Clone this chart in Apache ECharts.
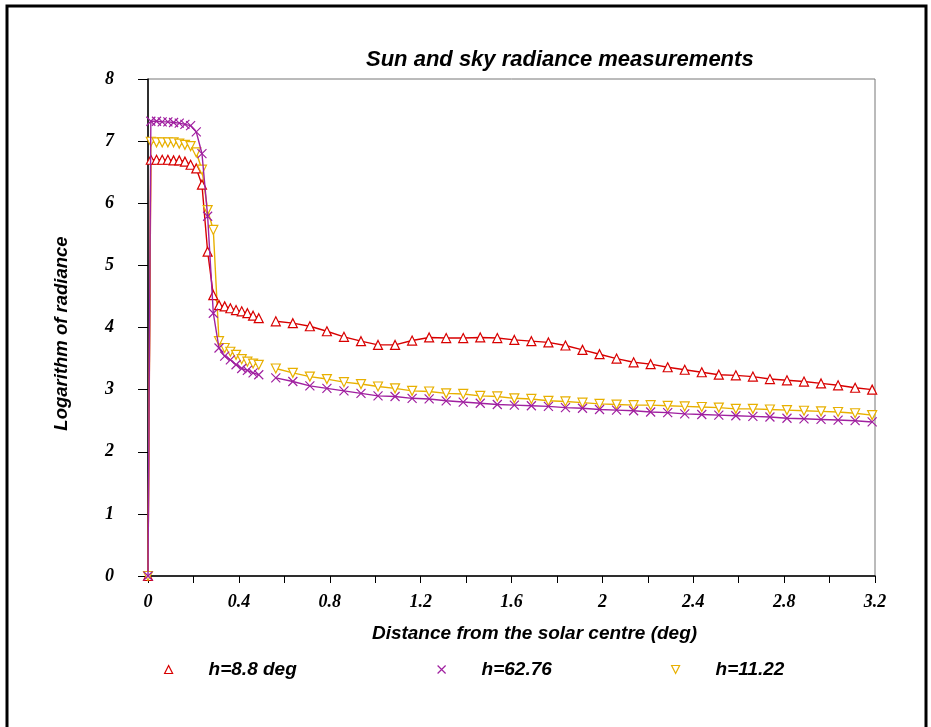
<!DOCTYPE html>
<html>
<head>
<meta charset="utf-8">
<script src="https://cdn.jsdelivr.net/npm/echarts@6/dist/echarts.min.js"></script>
<style>
html,body{margin:0;padding:0;background:#fff;}
#chart{width:931px;height:727px;}
</style>
</head>
<body>
<div id="chart"></div>
<script>
// Distances (deg) of the measurement points
var distZero = [0];
var distNear = [0.0125, 0.0375, 0.0625, 0.0875, 0.1125, 0.1375, 0.1625, 0.1875, 0.2125, 0.2375,
                0.2625, 0.2875, 0.3125, 0.3375, 0.3625, 0.3875, 0.4125, 0.4375, 0.4625, 0.4875];
var distFar = [0.5625, 0.6375, 0.7125, 0.7875, 0.8625, 0.9375, 1.0125, 1.0875, 1.1625, 1.2375,
               1.3125, 1.3875, 1.4625, 1.5375, 1.6125, 1.6875, 1.7625, 1.8375, 1.9125, 1.9875,
               2.0625, 2.1375, 2.2125, 2.2875, 2.3625, 2.4375, 2.5125, 2.5875, 2.6625, 2.7375,
               2.8125, 2.8875, 2.9625, 3.0375, 3.1125, 3.1875];

// Series names
var seriesNames = ['h=8.8 deg', 'h=62.76', 'h=11.22'];

// h=8.8 deg
var h88Zero = [0];
var h88Near = [6.70, 6.70, 6.70, 6.70, 6.69, 6.69, 6.67, 6.62, 6.56, 6.30,
               5.22, 4.52, 4.36, 4.34, 4.31, 4.28, 4.26, 4.23, 4.19, 4.15];
var h88Far = [4.10, 4.07, 4.02, 3.94, 3.85, 3.78, 3.72, 3.72, 3.79, 3.84,
              3.83, 3.83, 3.84, 3.83, 3.80, 3.78, 3.76, 3.71, 3.64, 3.57,
              3.50, 3.44, 3.41, 3.36, 3.32, 3.28, 3.24, 3.23, 3.21, 3.17,
              3.15, 3.13, 3.10, 3.07, 3.03, 3.00];

// h=62.76
var h6276Zero = [0];
var h6276Near = [7.32, 7.32, 7.31, 7.31, 7.30, 7.29, 7.27, 7.25, 7.15, 6.80,
                 5.79, 4.23, 3.67, 3.54, 3.48, 3.40, 3.34, 3.31, 3.27, 3.24];
var h6276Far = [3.19, 3.13, 3.06, 3.02, 2.98, 2.94, 2.90, 2.89, 2.86, 2.85,
                2.82, 2.80, 2.78, 2.76, 2.75, 2.74, 2.73, 2.71, 2.70, 2.68,
                2.67, 2.66, 2.64, 2.63, 2.61, 2.60, 2.59, 2.58, 2.57, 2.56,
                2.54, 2.53, 2.52, 2.51, 2.50, 2.48];

// h=11.22
var h1122Zero = [0];
var h1122Near = [6.99, 6.98, 6.98, 6.98, 6.98, 6.96, 6.94, 6.92, 6.82, 6.54,
                 5.89, 5.57, 3.78, 3.67, 3.61, 3.56, 3.49, 3.45, 3.42, 3.40];
var h1122Far = [3.34, 3.27, 3.21, 3.17, 3.12, 3.09, 3.05, 3.02, 2.98, 2.97,
                2.94, 2.93, 2.90, 2.89, 2.86, 2.85, 2.82, 2.81, 2.79, 2.77,
                2.76, 2.75, 2.75, 2.74, 2.73, 2.72, 2.71, 2.69, 2.69, 2.68,
                2.67, 2.66, 2.65, 2.64, 2.62, 2.59];

function pairs(xs, ys) {
  return xs.map(function (x, i) { return [x, ys[i]]; });
}
function build(zero, near, far) {
  return pairs(distZero, zero).concat(pairs(distNear, near), [['-', '-']], pairs(distFar, far));
}

var SYM_UP = 'triangle';
var SYM_X = 'path://M0,0L10,10M10,0L0,10';
var SYM_DOWN = 'path://M0,0L10,0L5,10Z';

var colRed = '#d80000', colPurple = '#a020a0', colYellow = '#e8b000';
var legendFont = {fontFamily: 'Liberation Sans', fontWeight: 'bold', fontStyle: 'italic', fontSize: 19, color: '#000'};

function legendOf(name, icon, color, fill, left) {
  return {
    left: left, top: 655, orient: 'horizontal',
    itemWidth: 70, itemHeight: 8, symbolKeepAspect: true,
    textStyle: legendFont,
    selectedMode: false,
    data: [{name: name, icon: icon,
            itemStyle: {color: fill, borderColor: color, borderWidth: 1.2}}]
  };
}

var chart = echarts.init(document.getElementById('chart'), null, {renderer: 'canvas'});
chart.setOption({
  animation: false,
  backgroundColor: '#fff',
  title: {
    text: 'Sun and sky radiance measurements',
    left: 361, top: 44,
    textStyle: {fontFamily: 'Liberation Sans', fontWeight: 'bold', fontStyle: 'italic', fontSize: 22, color: '#000'}
  },
  graphic: [{
    type: 'rect', silent: true,
    shape: {x: 7, y: 6, width: 919, height: 740},
    style: {fill: 'none', stroke: '#000', lineWidth: 3}
  }],
  legend: [
    legendOf(seriesNames[0], 'path://M5,0L10,10L0,10Z', colRed, '#fff', 159),
    legendOf(seriesNames[1], SYM_X, colPurple, 'rgba(0,0,0,0)', 432),
    legendOf(seriesNames[2], SYM_DOWN, colYellow, '#fff', 666)
  ],
  grid: {left: 148, right: 56, top: 79, bottom: 151, show: true, borderColor: '#777', borderWidth: 1},
  xAxis: {
    type: 'value', min: 0, max: 3.2, interval: 0.2,
    name: 'Distance from the solar centre (deg)',
    nameLocation: 'middle', nameGap: 48,
    nameTextStyle: {fontFamily: 'Liberation Sans', fontWeight: 'bold', fontStyle: 'italic', fontSize: 19, color: '#000', padding: [0, 0, 0, 46]},
    axisLine: {lineStyle: {color: '#000', width: 1.5}},
    axisTick: {show: true, length: 7, lineStyle: {color: '#000'}},
    splitLine: {show: false},
    axisLabel: {
      margin: 17,
      fontFamily: 'Liberation Serif', fontWeight: 'bold', fontStyle: 'italic', fontSize: 18, color: '#000',
      formatter: function (v) {
        var t = Math.round(v * 10);
        return (t % 4 === 0) ? String(t / 10) : '';
      }
    }
  },
  yAxis: {
    type: 'value', min: 0, max: 8, interval: 1,
    name: 'Logarithm of radiance',
    nameLocation: 'middle', nameRotate: 90, nameGap: 77,
    nameTextStyle: {fontFamily: 'Liberation Sans', fontWeight: 'bold', fontStyle: 'italic', fontSize: 18.5, color: '#000', padding: [0, 12, 0, 0]},
    axisLine: {show: true, lineStyle: {color: '#000', width: 1.5}},
    axisTick: {show: true, length: 10, lineStyle: {color: '#000'}},
    splitLine: {show: false},
    axisLabel: {
      margin: 34,
      fontFamily: 'Liberation Serif', fontWeight: 'bold', fontStyle: 'italic', fontSize: 18, color: '#000'
    }
  },
  series: [
    {
      name: seriesNames[0], type: 'line', data: build(h88Zero, h88Near, h88Far),
      connectNulls: false, symbol: SYM_UP, symbolSize: 9, showAllSymbol: true,
      lineStyle: {color: colRed, width: 1.4},
      itemStyle: {color: '#fff', borderColor: colRed, borderWidth: 1.2},
      z: 2
    },
    {
      name: seriesNames[1], type: 'line', data: build(h6276Zero, h6276Near, h6276Far),
      connectNulls: false, symbol: SYM_X, symbolSize: 9, showAllSymbol: true,
      lineStyle: {color: colPurple, width: 1.4},
      itemStyle: {color: 'rgba(0,0,0,0)', borderColor: colPurple, borderWidth: 1.2},
      z: 3
    },
    {
      name: seriesNames[2], type: 'line', data: build(h1122Zero, h1122Near, h1122Far),
      connectNulls: false, symbol: SYM_DOWN, symbolSize: 9, showAllSymbol: true,
      lineStyle: {color: colYellow, width: 1.4},
      itemStyle: {color: '#fff', borderColor: colYellow, borderWidth: 1.2},
      z: 2
    }
  ]
});
</script>
</body>
</html>
